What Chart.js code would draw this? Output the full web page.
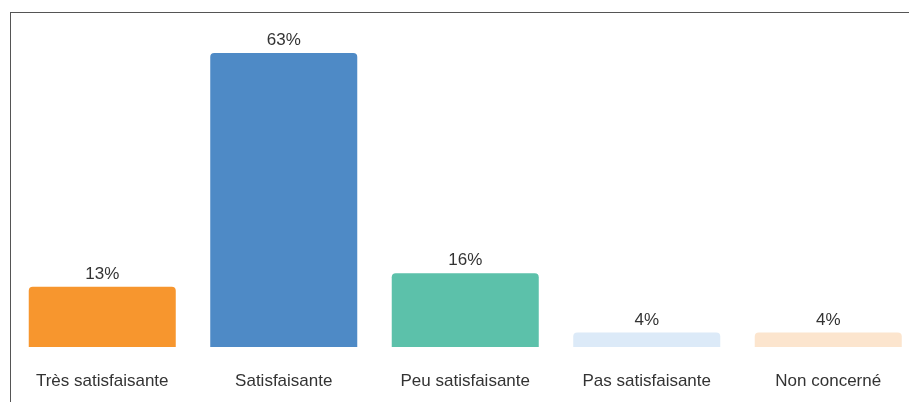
<!DOCTYPE html>
<html>
<head>
<meta charset="utf-8">
<script src="https://cdn.jsdelivr.net/npm/chart.js@4"></script>
<style>
  html, body { margin: 0; padding: 0; overflow: hidden; background: #fff; }
  #frame { position: absolute; left: 10px; top: 12px; width: 920px; height: 400px;
           border-top: 1.5px solid #555; border-left: 1.5px solid #555; }
  #wrap { position: absolute; left: 0; top: 0; width: 920px; height: 402px; }
</style>
</head>
<body>
<div id="frame"></div>
<div id="wrap"><canvas id="chart"></canvas></div>
<script>
const categories = ["Très satisfaisante", "Satisfaisante", "Peu satisfaisante", "Pas satisfaisante", "Non concerné"];
const values = [12.9, 63, 15.8, 3.1, 3.1];
const valueLabels = ["13%", "63%", "16%", "4%", "4%"];
const colors = ["#F7962E", "#4E8AC6", "#5CC1AA", "#DCEAF8", "#FCE5CE"];

const FONT = "'Liberation Sans', Arial, sans-serif";

// draws the percentage above each bar
const topLabels = {
  id: "topLabels",
  afterDatasetsDraw(chart) {
    const ctx = chart.ctx;
    const meta = chart.getDatasetMeta(0);
    ctx.save();
    ctx.font = "17px " + FONT;
    ctx.fillStyle = "#333";
    ctx.textAlign = "center";
    ctx.textBaseline = "alphabetic";
    meta.data.forEach((bar, i) => {
      ctx.fillText(valueLabels[i], bar.x, bar.y - 8);
    });
    ctx.restore();
  }
};

new Chart(document.getElementById("chart"), {
  type: "bar",
  data: {
    labels: categories,
    datasets: [{
      data: values,
      backgroundColor: colors,
      borderRadius: 4,
      barPercentage: 0.9,
      categoryPercentage: 0.9
    }]
  },
  options: {
    responsive: true,
    maintainAspectRatio: false,
    animation: false,
    layout: { padding: { left: 11.5, right: 1, top: 20.3, bottom: -13.4 } },
    plugins: { legend: { display: false }, tooltip: { enabled: false } },
    scales: {
      x: {
        grid: { display: false, drawTicks: false },
        border: { display: false },
        ticks: { color: "#333", font: { family: FONT, size: 17 }, padding: 24 }
      },
      y: {
        display: false,
        min: 0,
        max: 70
      }
    }
  },
  plugins: [topLabels]
});
</script>
</body>
</html>
